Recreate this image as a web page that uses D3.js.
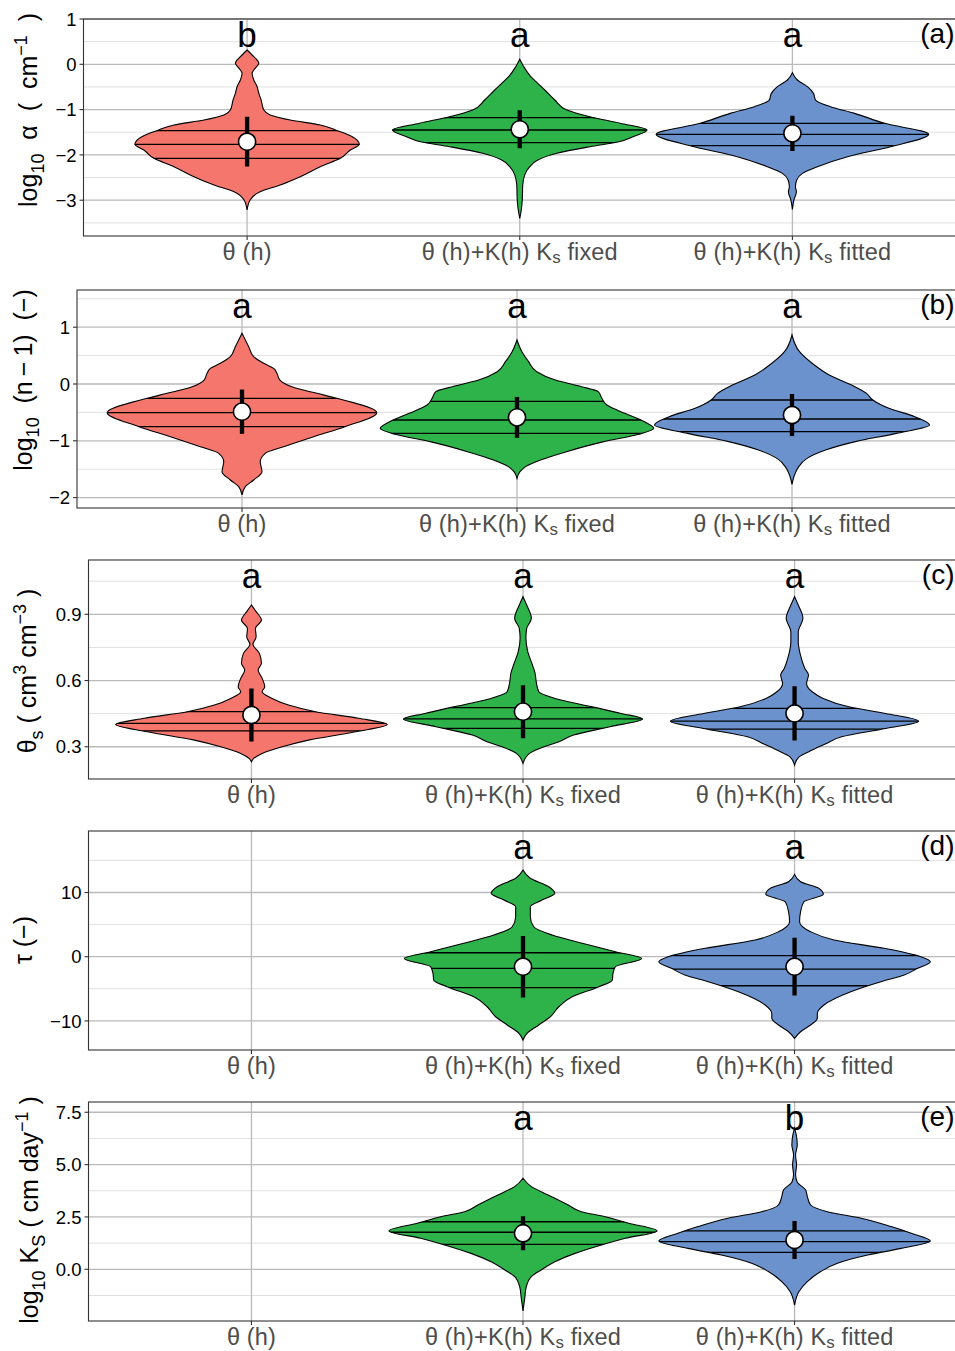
<!DOCTYPE html>
<html>
<head>
<meta charset="utf-8">
<script src="https://cdn.jsdelivr.net/npm/d3@7"></script>
<style>
body { margin: 0; background: #fff; }
svg { display: block; font-family: "Liberation Sans", Arial, Helvetica, sans-serif; }
</style>
</head>
<body>
<svg id="fig" width="955" height="1351"></svg>
<script>
// categories and their colours
var categories = ["θ (h)", "θ (h)+K(h) Ks fixed", "θ (h)+K(h) Ks fitted"];
var categoryLabels = [
  [["θ (h)", ""]],
  [["θ (h)+K(h) K", ""], ["s", "sub"], [" fixed", ""]],
  [["θ (h)+K(h) K", ""], ["s", "sub"], [" fitted", ""]]
];
var groupColors = ["#F4766C", "#2EB34B", "#6C92CD"];
var panelTags = ["(a)", "(b)", "(c)", "(d)", "(e)"];

// letters from the post-hoc test
var sigLetters = [["b", "a", "a"], ["a", "a", "a"], ["a", "a", "a"], [null, "a", "a"], [null, "a", "b"]];

// y axes
var yTicks = [[-3, -2, -1, 0, 1], [-2, -1, 0, 1], [0.3, 0.6, 0.9], [-10, 0, 10], [0, 2.5, 5, 7.5]];
var yMinor = [[-3.5, -2.5, -1.5, -0.5, 0.5], [-1.5, -0.5, 0.5, 1.5], [0.45, 0.75, 1.05], [-5, 5, 15], [-1.25, 1.25, 3.75, 6.25]];
var yDomains = [[-3.79, 1.0], [-2.183, 1.655], [0.154, 1.146], [-14.53, 19.58], [-2.47, 7.99]];
var yFormats = ["d", "d", ".1f", "d", ".1f"];
var yTitles = [
  [["log", ""], ["10", "sub"], ["\u00a0 α \u00a0( \u00a0cm", ""], ["−1", "sup"], ["\u00a0 )", ""]],
  [["log", ""], ["10", "sub"], ["\u00a0 (n\u2009−\u20091) \u00a0(−)", ""]],
  [["θ", ""], ["s", "sub"], [" ( cm", ""], ["3", "sup"], [" cm", ""], ["−3", "sup"], [" )", ""]],
  [["τ (−)", ""]],
  [["log", ""], ["10", "sub"], [" K", ""], ["S", "sub"], [" ( cm day", ""], ["−1", "sup"], [" )", ""]]
];

// violin outlines: [value, relative density]
var alphaTheta = [[0.316,0],[0.168,6.7],[0.021,11.7],[-0.089,8],[-0.199,5],[-0.347,6.7],[-0.494,10],[-0.641,11.7],[-0.788,14],[-1.009,16.7],[-1.119,23],[-1.23,43],[-1.34,73],[-1.465,90],[-1.597,105],[-1.767,112],[-1.892,103],[-2.076,93],[-2.26,73],[-2.481,53],[-2.664,33],[-2.812,13],[-2.996,3],[-3.216,0]];
var alphaFixed = [[0.11,0],[-0.053,4],[-0.273,11],[-0.42,18],[-0.567,25],[-0.788,35],[-1.009,47],[-1.157,70],[-1.3,100],[-1.45,127],[-1.598,113],[-1.709,99],[-1.819,70],[-1.965,37],[-2.113,18],[-2.26,10],[-2.44,5],[-2.66,3],[-3.0,2.5],[-3.216,1.5],[-3.4,0]];
var alphaFitted = [[-0.185,0],[-0.347,5],[-0.494,15],[-0.641,21],[-0.788,23],[-0.936,38],[-1.083,62],[-1.303,92],[-1.546,136],[-1.818,98],[-2.039,55],[-2.26,25],[-2.407,10],[-2.554,4.3],[-2.701,3],[-2.812,4],[-2.996,1.5],[-3.202,0]];

var nTheta = [[0.892,0],[0.657,6.7],[0.481,11.7],[0.364,21.7],[0.276,31.7],[0.188,35],[0.07,38],[-0.048,50],[-0.164,75],[-0.252,95],[-0.505,135],[-0.751,103],[-0.927,71.7],[-1.104,41.7],[-1.22,23.3],[-1.368,18.3],[-1.544,20],[-1.69,11.7],[-1.808,3.3],[-1.954,0]];
var nFixed = [[0.775,0],[0.569,4.9],[0.393,11.6],[0.217,19.8],[0.07,38.4],[-0.047,64.6],[-0.135,81.3],[-0.252,85],[-0.37,90],[-0.516,108],[-0.651,126],[-0.781,137],[-0.886,122],[-1.015,87],[-1.191,49.6],[-1.338,23.5],[-1.455,8.6],[-1.544,3],[-1.661,0]];
var nFitted = [[0.863,0],[0.569,7.5],[0.335,22.4],[0.158,37.3],[-0.018,59.7],[-0.164,74.6],[-0.282,81],[-0.428,97],[-0.575,123],[-0.722,137.7],[-0.869,104.5],[-1.015,63.4],[-1.162,33.6],[-1.309,15],[-1.485,5.6],[-1.632,1.9],[-1.766,0]];

var thetaSTheta = [[0.942,0],[0.912,4.7],[0.874,10],[0.836,4],[0.798,4.7],[0.764,1.5],[0.723,8],[0.678,10],[0.648,6.7],[0.61,10.7],[0.572,13.3],[0.549,10.7],[0.519,20.7],[0.489,37],[0.459,64],[0.429,107],[0.401,135.7],[0.368,104],[0.33,57],[0.3,30.7],[0.27,10.7],[0.247,2.3],[0.232,0]];
var thetaSFixed = [[0.98,0],[0.942,3.7],[0.882,8.4],[0.836,3.7],[0.791,2.9],[0.73,4.8],[0.67,9.5],[0.633,12.1],[0.595,13.2],[0.549,15.8],[0.519,32],[0.481,69],[0.451,98],[0.426,119.5],[0.391,87],[0.353,50.6],[0.323,36],[0.3,21],[0.27,6.6],[0.225,0]];
var thetaSFitted = [[0.98,0],[0.942,3.7],[0.882,8.4],[0.821,3.7],[0.776,3.7],[0.715,5.9],[0.655,10.3],[0.625,13.9],[0.587,12],[0.549,17.6],[0.519,28.6],[0.481,54.3],[0.451,91],[0.416,124],[0.383,91],[0.345,47],[0.315,32],[0.285,17.6],[0.255,4.8],[0.217,0]];

var tauFixed = [[13.5,0],[12.21,7.3],[10.9,25.7],[9.87,31.7],[8.83,19],[7.79,7.3],[6.23,7.3],[4.67,10.7],[3.38,29],[2.09,59],[0.78,92],[-0.26,118.3],[-1.56,92],[-2.59,89.7],[-3.63,89],[-4.67,75.7],[-6.23,49],[-7.79,35.7],[-9.35,27.3],[-10.64,15.7],[-11.93,4],[-12.98,0]];
var tauFitted = [[12.83,0],[11.68,6],[10.65,24.3],[9.72,28.7],[8.57,9.3],[7.01,6],[5.45,5],[3.89,16],[2.6,39.3],[1.31,89],[0,126],[-0.78,135.3],[-1.81,122.7],[-2.85,109.3],[-3.89,86],[-5.45,56],[-7.52,29.3],[-8.82,22.7],[-9.6,22.7],[-10.64,16],[-11.68,6],[-12.71,0]];

var ksFixed = [[4.35,0],[3.95,8.3],[3.55,25],[3.07,45],[2.75,58],[2.51,81.7],[2.2,105],[1.83,133.3],[1.48,101.7],[1.16,78],[0.76,51.7],[0.36,31.7],[-0.03,18],[-0.35,8.3],[-0.83,3.3],[-1.39,1.7],[-1.99,0]];
var ksFitted = [[6.74,0],[6.42,1.7],[5.94,2.7],[5.46,1],[4.98,2],[4.51,1],[4.16,2.7],[3.79,11],[3.47,12.7],[3.07,16],[2.75,32.7],[2.44,66],[2.04,96],[1.72,116],[1.35,135],[1.0,106],[0.68,72.7],[0.29,42.7],[-0.11,26],[-0.59,12.7],[-1.07,4.3],[-1.71,0]];

// quartiles (25, 50, 75), means and standard deviations
var alphaQuartiles = [[-2.076,-1.767,-1.465], [-1.731,-1.45,-1.179], [-1.796,-1.546,-1.303]];
var alphaMean = [-1.708, -1.435, -1.524];
var alphaSd = [0.55, 0.42, 0.39];
var nQuartiles = [[-0.751,-0.505,-0.252], [-0.869,-0.634,-0.305], [-0.839,-0.616,-0.282]];
var nMean = [-0.487, -0.587, -0.546];
var nSd = [0.39, 0.36, 0.37];
var thetaSQuartiles = [[0.372,0.406,0.459], [0.383,0.426,0.477], [0.38,0.416,0.474]];
var thetaSMean = [0.444, 0.459, 0.451];
var thetaSSd = [0.12, 0.12, 0.123];
var tauQuartiles = [null, [-4.83,-1.81,0.62], [-4.52,-1.92,0.16]];
var tauMean = [null, -1.56, -1.56];
var tauSd = [null, 4.78, 4.5];
var ksQuartiles = [null, [1.19,1.77,2.27], [0.81,1.32,1.83]];
var ksMean = [null, 1.72, 1.40];
var ksSd = [null, 0.81, 0.91];

// panel layout
var panelTops = [19, 290, 560, 831, 1102];
var panelBottoms = [236, 508, 779, 1050, 1321];
var panelLefts = [83.5, 77, 88.5, 88.5, 88.5];
var panelRights = [956, 957, 957.5, 957.5, 957.5];
var titleX = [37, 32, 36, 32, 38];
var titleY = [110, 380, 671, 940, 1210];

var panels = [
  { violins: [alphaTheta, alphaFixed, alphaFitted], q: alphaQuartiles, mean: alphaMean, sd: alphaSd },
  { violins: [nTheta, nFixed, nFitted], q: nQuartiles, mean: nMean, sd: nSd },
  { violins: [thetaSTheta, thetaSFixed, thetaSFitted], q: thetaSQuartiles, mean: thetaSMean, sd: thetaSSd },
  { violins: [null, tauFixed, tauFitted], q: tauQuartiles, mean: tauMean, sd: tauSd },
  { violins: [null, ksFixed, ksFitted], q: ksQuartiles, mean: ksMean, sd: ksSd }
];

var svg = d3.select("#fig");

// write text made of normal / sub / sup pieces
function addParts(sel, parts, size, subShift) {
  var shift = 0;
  parts.forEach(function(p) {
    var target = p[1] == "sub" ? subShift * size : (p[1] == "sup" ? -0.42 * size : 0);
    var t = sel.append("tspan").text(p[0]).attr("dy", target - shift);
    if (p[1]) t.attr("font-size", size * 0.72);
    shift = target;
  });
}

panels.forEach(function(panel, i) {
  var top = panelTops[i], bottom = panelBottoms[i], left = panelLefts[i], right = panelRights[i];
  var g = svg.append("g");

  var x = d3.scalePoint().domain(categories).range([left, right]).padding(0.6);
  var y = d3.scaleLinear().domain(yDomains[i]).range([bottom, top]);
  var dmax = d3.max(panel.violins, function(v) { return v ? d3.max(v, function(d) { return d[1]; }) : 0; });
  var w = d3.scaleLinear().domain([0, dmax]).range([0, x.step() / 2]);

  var clipId = "clip" + i;
  g.append("clipPath").attr("id", clipId)
    .append("rect").attr("x", left).attr("y", top).attr("width", right - left).attr("height", bottom - top);

  // grid
  g.selectAll(".minor").data(yMinor[i]).enter().append("line")
    .attr("x1", left).attr("x2", right)
    .attr("y1", function(d) { return y(d); }).attr("y2", function(d) { return y(d); })
    .attr("stroke", "#dedede").attr("stroke-width", 0.9);
  g.selectAll(".major").data(yTicks[i]).enter().append("line")
    .attr("x1", left).attr("x2", right)
    .attr("y1", function(d) { return y(d); }).attr("y2", function(d) { return y(d); })
    .attr("stroke", "#bababa").attr("stroke-width", 1.3);
  g.selectAll(".vgrid").data(categories).enter().append("line")
    .attr("x1", function(d) { return x(d); }).attr("x2", function(d) { return x(d); })
    .attr("y1", top).attr("y2", bottom)
    .attr("stroke", "#bababa").attr("stroke-width", 1.3);

  var plot = g.append("g").attr("clip-path", "url(#" + clipId + ")");

  panel.violins.forEach(function(v, k) {
    if (!v) return;
    var cx = x(categories[k]);
    var prof = v.slice().sort(function(a, b) { return a[0] - b[0]; });
    var area = d3.area().curve(d3.curveMonotoneY)
      .y(function(d) { return y(d[0]); })
      .x0(function(d) { return cx - w(d[1]); })
      .x1(function(d) { return cx + w(d[1]); });
    var shape = area(prof);

    var vid = "v" + i + "_" + k;
    g.append("clipPath").attr("id", vid).append("path").attr("d", shape);

    plot.append("path").attr("d", shape)
      .attr("fill", groupColors[k]).attr("stroke", "none");

    // quartile lines clipped to the violin body
    plot.append("g").attr("clip-path", "url(#" + vid + ")")
      .selectAll("line").data(panel.q[k]).enter().append("line")
      .attr("x1", cx - x.step() / 2).attr("x2", cx + x.step() / 2)
      .attr("y1", function(d) { return y(d); }).attr("y2", function(d) { return y(d); })
      .attr("stroke", "#000").attr("stroke-width", 1.3);

    plot.append("path").attr("d", shape)
      .attr("fill", "none").attr("stroke", "#000").attr("stroke-width", 1.1);

    // mean +/- sd
    var m = panel.mean[k], s = panel.sd[k];
    plot.append("line")
      .attr("x1", cx).attr("x2", cx)
      .attr("y1", y(m - s)).attr("y2", y(m + s))
      .attr("stroke", "#000").attr("stroke-width", 4.3);
    plot.append("circle")
      .attr("cx", cx).attr("cy", y(m)).attr("r", 8.6)
      .attr("fill", "#fff").attr("stroke", "#000").attr("stroke-width", 1.6);
  });

  // significance letters
  sigLetters[i].forEach(function(letter, k) {
    if (!letter) return;
    g.append("text")
      .attr("x", x(categories[k])).attr("y", top + 27.5)
      .attr("text-anchor", "middle").attr("font-size", 35).attr("fill", "#000")
      .text(letter);
  });

  // panel tag
  g.append("text")
    .attr("x", 954.5).attr("y", top + 23.5)
    .attr("text-anchor", "end").attr("font-size", 28).attr("fill", "#000")
    .text(panelTags[i]);

  // border
  g.append("rect")
    .attr("x", left).attr("y", top).attr("width", right - left).attr("height", bottom - top)
    .attr("fill", "none").attr("stroke", "#333").attr("stroke-width", 1.1);

  // y axis
  var fmt = d3.format(yFormats[i]);
  var yt = g.selectAll(".ytick").data(yTicks[i]).enter().append("g")
    .attr("transform", function(d) { return "translate(0," + y(d) + ")"; });
  yt.append("line").attr("x1", left - 4).attr("x2", left).attr("stroke", "#333").attr("stroke-width", 1.1);
  yt.append("text").attr("x", left - 7).attr("dy", "0.36em")
    .attr("text-anchor", "end").attr("font-size", 18.5).attr("fill", "#000")
    .text(function(d) { return fmt(d); });

  // x axis
  var xt = g.selectAll(".xtick").data(categories).enter().append("g")
    .attr("transform", function(d) { return "translate(" + x(d) + "," + bottom + ")"; });
  xt.append("line").attr("y1", 0).attr("y2", 4).attr("stroke", "#333").attr("stroke-width", 1.1);
  xt.each(function(d, k) {
    var t = d3.select(this).append("text")
      .attr("y", 23.5).attr("text-anchor", "middle").attr("font-size", 23.5)
      .attr("letter-spacing", 0.15).attr("fill", "#4d4d4d");
    addParts(t, categoryLabels[k], 23.5, 0.15);
  });

  // y title
  var tt = g.append("text")
    .attr("transform", "translate(" + titleX[i] + "," + titleY[i] + ") rotate(-90)")
    .attr("text-anchor", "middle")
    .attr("font-size", 25).attr("fill", "#000");
  addParts(tt, yTitles[i], 25, 0.28);
});
</script>
</body>
</html>
